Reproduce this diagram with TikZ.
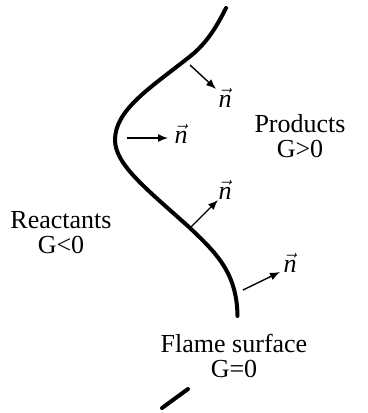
\documentclass[tikz,border=0pt]{standalone}
\usepackage{fontspec}
\setmainfont{Liberation Serif}
\usetikzlibrary{arrows.meta}

\newcommand{\nvec}{\ensuremath{\vec{\hbox{\itshape n}}}}

\begin{document}
\begin{tikzpicture}[
  x=0.5pt, y=-0.5pt,
  font=\fontsize{13}{12.5}\selectfont,
  front/.style={line width=2pt, line cap=round},
  normal/.style={-{Latex[length=5pt, width=4pt]}, line width=0.7pt},
  region/.style={align=center, inner sep=0pt}
]
\useasboundingbox (0,0) rectangle (368,413);

% flame front
\draw[front] (226,8) .. controls (215,30) and (205,45) .. (188,58)
  .. controls (150,88) and (115,110) .. (115,140)
  .. controls (115,165) and (148,190) .. (190,228)
  .. controls (215,252) and (237,272) .. (237.5,316);
\draw[front] (188,389) -- (162,408);

% points on the front and arrow tips
\coordinate (p1) at (190,65);
\coordinate (t1) at (216,89);
\coordinate (p2) at (127,138);
\coordinate (t2) at (168,138);
\coordinate (p3) at (190,228);
\coordinate (t3) at (218,200);
\coordinate (p4) at (243,290);
\coordinate (t4) at (280,272);

\draw[normal] (p1) -- (t1);
\draw[normal] (p2) -- (t2);
\draw[normal] (p3) -- (t3);
\draw[normal] (p4) -- (t4);

\node (n1) at (225,98) {\nvec};
\node (n2) at (181,134) {\nvec};
\node (n3) at (225,190) {\nvec};
\node (n4) at (290,263) {\nvec};

\node[region] (prod) at (300,136) {Products\\G>0};
\node[region] (reac) at (61,233) {Reactants\\G<0};
\node[region] (flame) at (234,356) {Flame surface\\G=0};
\end{tikzpicture}
\end{document}
